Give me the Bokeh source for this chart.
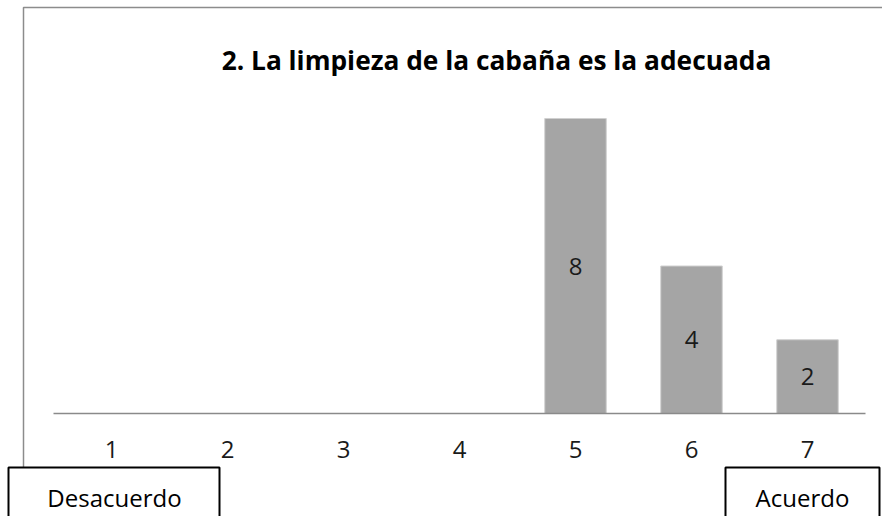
from bokeh.plotting import figure
from bokeh.models import Range1d, ColumnDataSource, Label, BoxAnnotation
from bokeh.core.properties import value
from bokeh.embed import file_html
from bokeh.resources import INLINE

# Survey answers: score 1 (disagree) .. 7 (agree)
categories = [1, 2, 3, 4, 5, 6, 7]
tick_labels = ["1", "2", "3", "4", "5", "6", "7"]
counts = [0, 0, 0, 0, 8, 4, 2]
title_text = "2. La limpieza de la cabaña es la adecuada"
low_label = "Desacuerdo"
high_label = "Acuerdo"

W, H = 882, 516
# canvas geometry (pixels): baseline row, category pitch, px per count unit
BASE_PX = 413
PITCH = 116
LEFT_PX = 53
UNIT_PX = 36.875


def xd(px):
    return 0.5 + (px - LEFT_PX) / PITCH


def yd(py):
    return (BASE_PX - py) / UNIT_PX


FONT = value("Open Sans")

p = figure(width=W, height=H, output_backend="svg", toolbar_location=None,
           x_range=Range1d(xd(0), xd(W)), y_range=Range1d(yd(H), yd(0)),
           min_border=0, outline_line_color=None, background_fill_color="white",
           border_fill_color="white")
p.axis.visible = False
p.grid.visible = False

# outer chart border (top and left edges visible)
p.add_layout(BoxAnnotation(left=xd(23), right=xd(W + 20), top=yd(7), bottom=yd(H + 20),
                           fill_alpha=0, line_color="#8c8c8c", line_alpha=1,
                           line_width=1.5, level="underlay"))

src = ColumnDataSource(dict(x=categories, top=counts,
                            mid=[c / 2 for c in counts],
                            lab=[str(c) if c > 0 else "" for c in counts]))

p.vbar(x="x", top="top", bottom=0, width=0.53, source=src,
       fill_color="#a5a5a5", line_color="#d0d0d0", line_width=1)

# category baseline
p.segment(x0=[0.5], y0=[0], x1=[7.5], y1=[0], line_color="#8a8a8a", line_width=1.5)

# value labels in the middle of each bar
p.text(x="x", y="mid", text="lab", source=src, text_align="center",
       text_baseline="middle", text_font=FONT, text_font_size="24px", text_color="#1a1a1a")

# category tick labels
p.text(x=categories, y=[yd(449)] * len(categories), text=tick_labels,
       text_align="center", text_baseline="middle", text_font=FONT,
       text_font_size="24px", text_color="#1a1a1a")

p.add_layout(Label(x=xd(496), y=yd(59), text=title_text, text_align="center",
                   text_baseline="middle", text_font="Open Sans", text_font_style="bold",
                   text_font_size="26.3px", text_color="#000000"))

# scale end captions in boxes
for left_px, right_px in [(8, 219), (725, 879)]:
    p.add_layout(BoxAnnotation(left=xd(left_px), right=xd(right_px), top=yd(467),
                               bottom=yd(H + 20), fill_color="white", fill_alpha=1,
                               line_color="black", line_alpha=1, line_width=2))
p.add_layout(Label(x=xd(114), y=yd(497), text=low_label, text_align="center",
                   text_baseline="middle", text_font="Open Sans", text_font_size="24px",
                   text_color="#000000"))
p.add_layout(Label(x=xd(802), y=yd(497), text=high_label, text_align="center",
                   text_baseline="middle", text_font="Open Sans", text_font_size="24px",
                   text_color="#000000"))

open("out.html", "w").write(file_html(p, INLINE))
